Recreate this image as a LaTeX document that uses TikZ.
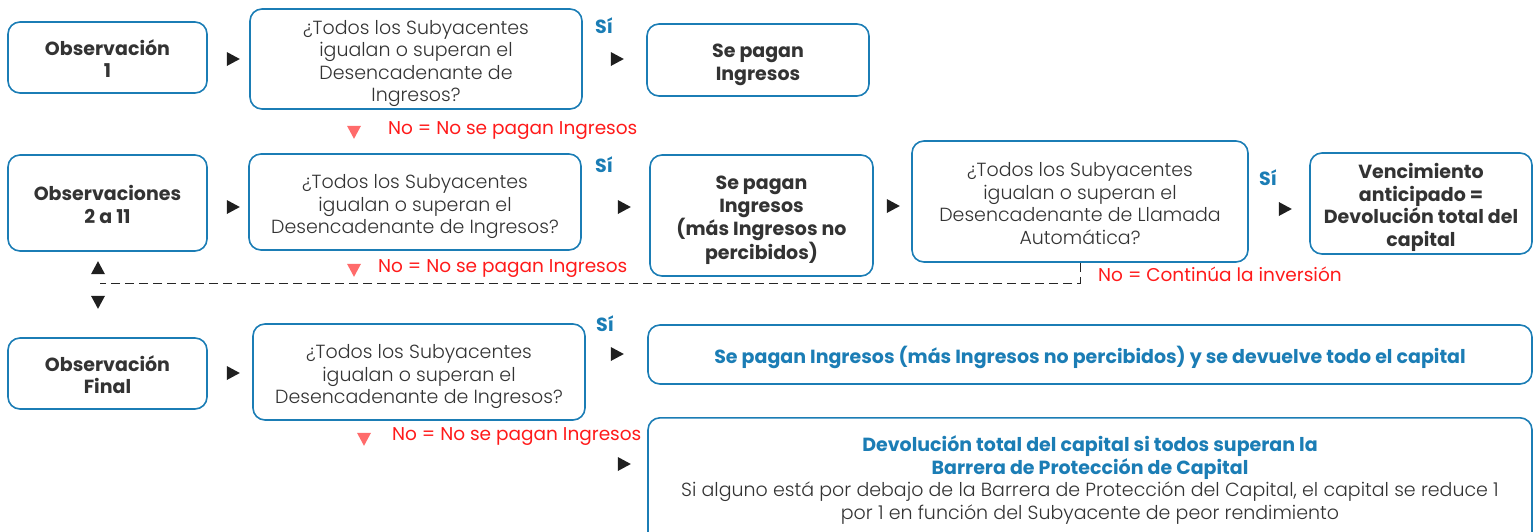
\documentclass[tikz,border=0pt]{standalone}
\usepackage{fontspec}
\setmainfont{Poppins}
\newfontfamily\lightfont{Poppins Light}
\usetikzlibrary{shapes.geometric}
\definecolor{boxblue}{HTML}{1B7DB5}
\definecolor{txtgray}{HTML}{333333}
\definecolor{nored}{HTML}{FF1A1A}
\definecolor{trired}{HTML}{FF6B6B}
\newcommand{\topstrut}{\rule{0pt}{24pt}}
\newcommand{\botstrut}{\rule[-6pt]{0pt}{6pt}}

\begin{document}
\begin{tikzpicture}[x=1pt, y=-1pt,
  box/.style={draw=boxblue, line width=1.6pt, rounded corners=12pt, align=center, inner sep=0pt},
  obs/.style={box, font=\bfseries\fontsize{19}{22.5}\selectfont, text=txtgray},
  ques/.style={box, font=\lightfont\fontsize{19}{22.5}\selectfont, text=txtgray},
  tri/.style={isosceles triangle, isosceles triangle stretches, fill=black!88, inner sep=0pt,
    minimum width=14pt, minimum height=13pt},
  redtri/.style={tri, fill=trired, shape border rotate=270},
  si/.style={font=\bfseries\fontsize{19}{20}\selectfont, text=boxblue, inner sep=0pt},
  notxt/.style={font=\fontsize{18.5}{20}\selectfont, text=nored, inner sep=0pt, anchor=west},
  loop/.style={black!85, line width=1pt, dash pattern=on 9pt off 5pt}]
  \useasboundingbox (0,0) rectangle (1533,531);
  % first observation
  \node[obs, minimum width=199pt, minimum height=71pt] (obs1) at (107.5,57.5)
    {\topstrut Observación\\1\botstrut};
  \node[tri] (t1) at (231,59) {};
  \node[ques, minimum width=332pt, minimum height=100pt] (q1) at (416,59)
    {\topstrut¿Todos los Subyacentes\\igualan o superan el\\Desencadenante de\\Ingresos?\botstrut};
  \node[si] (si1) at (604,26) {Sí};
  \node[tri] (t2) at (615,59) {};
  \node[obs, minimum width=222pt, minimum height=72pt] (pay1) at (758,60)
    {\topstrut Se pagan\\Ingresos\botstrut};
  \node[redtri] (r1) at (354,130) {};
  \node[notxt] (no1) at (388,131) {No = No se pagan Ingresos};
  % observations 2 to 11
  \node[obs, minimum width=199pt, minimum height=96pt] (obs2) at (107.5,203)
    {\topstrut Observaciones\\2 a 11\botstrut};
  \node[tri] (t3) at (231,207) {};
  \node[ques, minimum width=332pt, minimum height=96pt] (q2) at (415,202)
    {\topstrut¿Todos los Subyacentes\\igualan o superan el\\Desencadenante de Ingresos?\botstrut};
  \node[si] (si2) at (604,165) {Sí};
  \node[tri] (t4) at (622,207) {};
  \node[obs, minimum width=223pt, minimum height=121pt] (pay2) at (761.5,215.5)
    {\topstrut Se pagan\\Ingresos\\(más Ingresos no\\percibidos)\botstrut};
  \node[tri] (t5) at (891,206) {};
  \node[ques, minimum width=336pt, minimum height=121pt] (qcall) at (1080,201.5)
    {\topstrut¿Todos los Subyacentes\\igualan o superan el\\Desencadenante de Llamada\\Automática?\botstrut};
  \node[si] (si3) at (1268,178) {Sí};
  \node[tri] (t6) at (1283,209) {};
  \node[obs, minimum width=222pt, minimum height=101pt] (early) at (1421,203.5)
    {\topstrut Vencimiento\\anticipado =\\Devolución total del\\capital\botstrut};
  \node[redtri] (r2) at (354,268) {};
  \node[notxt] (no2) at (378,269) {No = No se pagan Ingresos};
  \coordinate (back) at (100,283);
  \draw[loop] (qcall.south) |- (back);
  \node[notxt] (no3) at (1098,274) {No = Continúa la inversión};
  \node[tri, shape border rotate=90] (up) at (98,270) {};
  \node[tri, shape border rotate=270] (down) at (98,300) {};
  % final observation
  \node[obs, minimum width=199pt, minimum height=71pt] (obs3) at (107.5,373.5)
    {\topstrut Observación\\Final\botstrut};
  \node[tri] (t7) at (231,373) {};
  \node[ques, minimum width=332pt, minimum height=96pt] (q3) at (419,372)
    {\topstrut¿Todos los Subyacentes\\igualan o superan el\\Desencadenante de Ingresos?\botstrut};
  \node[si] (si4) at (605,324) {Sí};
  \node[tri] (t8) at (615,354) {};
  \node[obs, text=boxblue, minimum width=884pt, minimum height=59pt] (end1) at (1090,354.5)
    {\topstrut Se pagan Ingresos (más Ingresos no percibidos) y se devuelve todo el capital\botstrut};
  \node[redtri] (r3) at (364,437) {};
  \node[notxt] (no4) at (392,437) {No = No se pagan Ingresos};
  \node[tri] (t9) at (622,464) {};
  % box runs past the lower edge
  \node[obs, text=boxblue, anchor=north, minimum width=884pt, minimum height=128pt] (end2) at (1090,417)
    {\topstrut Devolución total del capital si todos superan la\\Barrera de Protección de Capital\\
     {\lightfont\mdseries\color{txtgray}Si alguno está por debajo de la Barrera de Protección del Capital, el capital se reduce 1}\\
     {\lightfont\mdseries\color{txtgray}por 1 en función del Subyacente de peor rendimiento}\rule[-17pt]{0pt}{17pt}};
\end{tikzpicture}
\end{document}
